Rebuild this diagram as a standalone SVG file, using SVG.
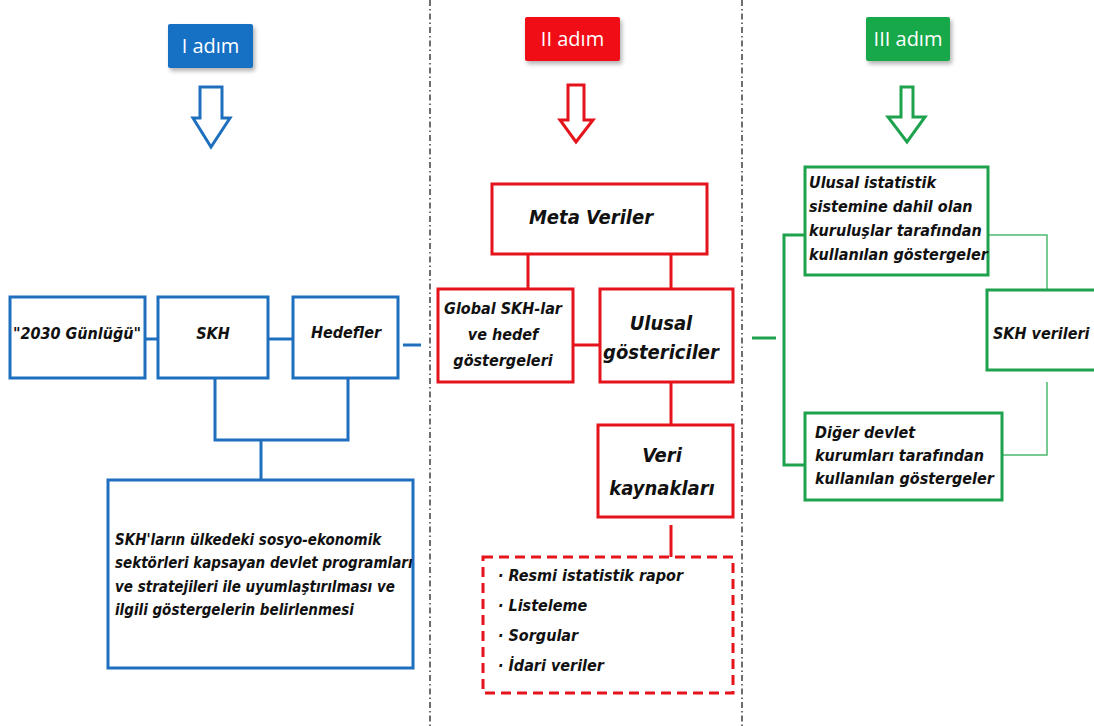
<svg xmlns="http://www.w3.org/2000/svg" width="1094" height="726" viewBox="0 0 1094 726">
<style>
.t{font-family:'DejaVu Sans Condensed','DejaVu Sans',sans-serif;font-stretch:condensed;font-weight:bold;font-style:italic;fill:#111;}
.h{font-family:'Open Sans','Noto Sans',sans-serif;font-size:20px;fill:#fff;}
.bb{fill:#fff;stroke:#1f6fbf;stroke-width:3;}
.rb{fill:#fff;stroke:#e5131b;stroke-width:3;}
.gb{fill:#fff;stroke:#1ea24e;stroke-width:3;}
.bl{stroke:#1f6fbf;stroke-width:3;fill:none;}
.rl{stroke:#e5131b;stroke-width:3;fill:none;}
.gl{stroke:#1ea24e;stroke-width:3;fill:none;}
.gt{stroke:#4cbb6c;stroke-width:1.5;fill:none;}
.dv{stroke:#222;stroke-width:1.3;stroke-dasharray:6 3 1.5 3;fill:none;}
</style>
<defs>
<filter id="sh" x="-20%" y="-20%" width="140%" height="160%">
<feDropShadow dx="2" dy="3" stdDeviation="2" flood-color="#000" flood-opacity="0.3"/>
</filter>
</defs>
<rect width="1094" height="726" fill="#fff"/>
<g id="dividers">
<line class="dv" x1="430" y1="0" x2="430" y2="726"/>
<line class="dv" x1="742" y1="0" x2="742" y2="726"/>
</g>
<g id="step1">
<rect x="168" y="24" width="85" height="44" rx="2" fill="#1570c4" filter="url(#sh)"/>
<text class="h" x="210.5" y="53" text-anchor="middle">I adım</text>
<path d="M200,87 H222 V118 H230 L211,147 L193,118 H200 Z" fill="#fff" stroke="#1f6fbf" stroke-width="3" stroke-linejoin="miter"/>
</g>
<g id="step2">
<rect x="525" y="17" width="95" height="44" rx="2" fill="#f01018" filter="url(#sh)"/>
<text class="h" x="572.5" y="46" text-anchor="middle">II adım</text>
<path d="M568,85 H584 V120 H593 L576,142 L560,120 H568 Z" fill="#fff" stroke="#e5131b" stroke-width="3"/>
</g>
<g id="step3">
<rect x="866" y="17" width="84" height="44" rx="2" fill="#15a84a" filter="url(#sh)"/>
<text class="h" x="908" y="46" text-anchor="middle">III adım</text>
<path d="M901,87 H913 V117 H925 L907,142 L888,117 H901 Z" fill="#fff" stroke="#1ea24e" stroke-width="3"/>
</g>
<g id="connectors">
<line class="bl" x1="145" y1="339" x2="158" y2="339"/>
<line class="bl" x1="268" y1="339" x2="293" y2="339"/>
<line class="bl" x1="403" y1="345" x2="421" y2="345"/>
<path class="bl" d="M215,378 V440 H348 V378"/>
<line class="bl" x1="261" y1="440" x2="261" y2="480"/>
<line class="rl" x1="528" y1="254" x2="528" y2="289"/>
<line class="rl" x1="671" y1="254" x2="671" y2="289"/>
<line class="rl" x1="573" y1="345" x2="600" y2="345"/>
<line class="rl" x1="671" y1="382" x2="671" y2="425"/>
<line class="rl" x1="671" y1="525" x2="671" y2="557"/>
<line class="gl" x1="752" y1="338" x2="776" y2="338"/>
<path class="gl" d="M805,235 H784 V465 H805"/>
<path class="gt" d="M988,235 H1047 V290"/>
<path class="gt" d="M1047,382 V455 H1002"/>
</g>
<g id="n2030">
<rect class="bb" x="10" y="297" width="135" height="81"/>
<text class="t" x="77" y="339" font-size="16" text-anchor="middle">"2030 Günlüğü"</text>
</g>
<g id="nSKH">
<rect class="bb" x="158" y="297" width="110" height="81"/>
<text class="t" x="213" y="339" font-size="16" text-anchor="middle">SKH</text>
</g>
<g id="nHedefler">
<rect class="bb" x="293" y="297" width="105" height="81"/>
<text class="t" x="346" y="338" font-size="16" text-anchor="middle">Hedefler</text>
</g>
<g id="nUyum">
<rect class="bb" x="108" y="480" width="305" height="188"/>
<text class="t" font-size="15"><tspan x="115" y="545">SKH'ların ülkedeki sosyo-ekonomik</tspan><tspan x="115" y="568">sektörleri kapsayan devlet programları</tspan><tspan x="115" y="592">ve stratejileri ile uyumlaştırılması ve</tspan><tspan x="115" y="615">ilgili göstergelerin belirlenmesi</tspan></text>
</g>
<g id="nMeta">
<rect class="rb" x="492" y="184" width="215" height="70"/>
<text class="t" x="591" y="224" font-size="20" text-anchor="middle">Meta Veriler</text>
</g>
<g id="nGlobal">
<rect class="rb" x="438" y="289" width="135" height="93"/>
<text class="t" font-size="16" text-anchor="middle"><tspan x="503" y="314">Global SKH-lar</tspan><tspan x="503" y="340">ve hedef</tspan><tspan x="503" y="366">göstergeleri</tspan></text>
</g>
<g id="nUlusal">
<rect class="rb" x="600" y="289" width="133" height="93"/>
<text class="t" font-size="20" text-anchor="middle"><tspan x="661" y="330">Ulusal</tspan><tspan x="661" y="359">göstericiler</tspan></text>
</g>
<g id="nVeri">
<rect class="rb" x="598" y="425" width="135" height="92"/>
<text class="t" font-size="20" text-anchor="middle"><tspan x="662" y="462">Veri</tspan><tspan x="662" y="495">kaynakları</tspan></text>
</g>
<g id="nKaynak">
<rect x="483" y="557" width="250" height="136" fill="#fff" stroke="#e5131b" stroke-width="3" stroke-dasharray="10 6"/>
<text class="t" font-size="16"><tspan x="498" y="581">· Resmi istatistik rapor</tspan><tspan x="498" y="611">· Listeleme</tspan><tspan x="498" y="641">· Sorgular</tspan><tspan x="498" y="671">· İdari veriler</tspan></text>
</g>
<g id="nUIS">
<rect class="gb" x="805" y="167" width="183" height="108"/>
<text class="t" font-size="16"><tspan x="809" y="188">Ulusal istatistik</tspan><tspan x="809" y="212">sistemine  dahil olan</tspan><tspan x="809" y="236">kuruluşlar tarafından</tspan><tspan x="809" y="260">kullanılan göstergeler</tspan></text>
</g>
<g id="nSKHV">
<rect class="gb" x="987" y="290" width="110" height="80"/>
<text class="t" x="993" y="339" font-size="16">SKH verileri</text>
</g>
<g id="nDiger">
<rect class="gb" x="805" y="413" width="197" height="87"/>
<text class="t" font-size="16"><tspan x="815" y="438">Diğer devlet</tspan><tspan x="815" y="461">kurumları tarafından</tspan><tspan x="815" y="484">kullanılan göstergeler</tspan></text>
</g>
</svg>
